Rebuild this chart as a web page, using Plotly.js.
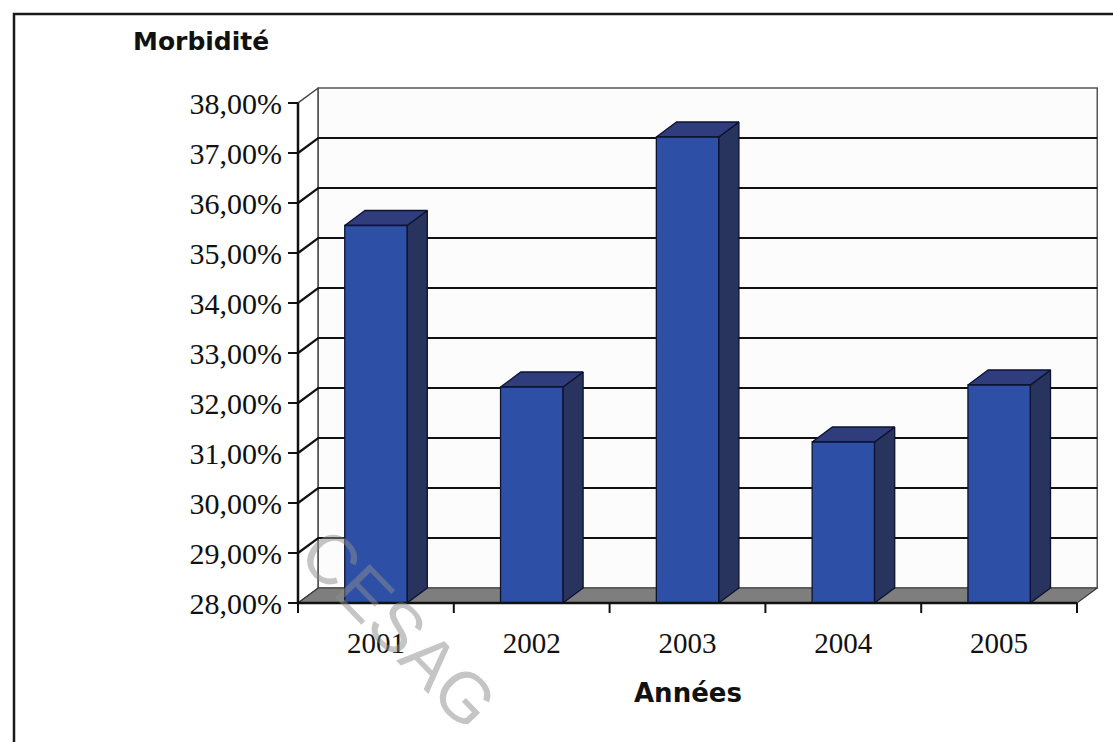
<!DOCTYPE html>
<html>
<head>
<meta charset="utf-8">
<script src="https://cdn.plot.ly/plotly-3.0.1.min.js"></script>
<style>
  html, body { margin: 0; padding: 0; background: #ffffff; }
  #chart { width: 1113px; height: 742px; }
</style>
</head>
<body>
<div id="chart"></div>
<script>
// Taux de morbidité par année
const years = ['2001', '2002', '2003', '2004', '2005'];
const morbidite = [35.55, 32.32, 37.32, 31.22, 32.36];
const yTicks = [28, 29, 30, 31, 32, 33, 34, 35, 36, 37, 38];
const yTickText = yTicks.map(v => v.toFixed(2).replace('.', ',') + '%');

// 3-D look: depth of floor / back wall expressed in axis units
const DX = 0.13, DY = 0.3;
const BASE = yTicks[0], TOP = yTicks[yTicks.length - 1];
const N = years.length;
const BAR_HALF = 0.2;

// page geometry
const W = 1113, H = 742;
const M = { l: 288, r: 7, t: 78, b: 129 };
const plotW = W - M.l - M.r, plotH = H - M.t - M.b;
const KX = 155.8, KY = 50;          // pixels per axis unit
const AX_X = 298, AX_Y = 603;       // pixel position of the front axes
const xRange = [-(AX_X - M.l) / KX, (W - M.r - AX_X) / KX];
const yRange = [BASE - (H - M.b - AX_Y) / KY, BASE + (AX_Y - M.t) / KY];
const px = x => (x - M.l) / plotW;
const py = y => (H - M.b - y) / plotH;

const FRONT = '#2d50a6', SIDE = '#28335e', TOPC = '#303d7c', EDGE = '#0c1230';
const INK = '#111111';

function poly(xs, ys, fill, lineColor, lw) {
  return {
    type: 'scatter', mode: lw ? 'lines' : 'none',
    x: xs.concat([xs[0]]), y: ys.concat([ys[0]]),
    fill: 'toself', fillcolor: fill,
    line: { color: lineColor || fill, width: lw || 0 },
    hoverinfo: 'skip', showlegend: false
  };
}
function line(xs, ys, color, width) {
  return {
    type: 'scatter', mode: 'lines', x: xs, y: ys,
    line: { color: color, width: width },
    hoverinfo: 'skip', showlegend: false, connectgaps: false
  };
}

const traces = [];

// left side wall
traces.push(poly([0, DX, DX, 0], [BASE, BASE + DY, TOP + DY, TOP], '#ffffff', '#444444', 1.5));
// back wall
traces.push(poly([DX, N + DX, N + DX, DX], [BASE + DY, BASE + DY, TOP + DY, TOP + DY], '#fcfcfc', '#555555', 1.5));
// floor
traces.push(poly([0, N, N + DX, DX], [BASE, BASE, BASE + DY, BASE + DY], '#7e7e7e', '#3a3a3a', 1.2));

// gridlines on side and back walls
const gx = [], gy = [];
yTicks.slice(1, -1).forEach(v => {
  gx.push(0, DX, N + DX, null);
  gy.push(v, v + DY, v + DY, null);
});
traces.push(line(gx, gy, INK, 2.2));

// columns: side, top, front faces
morbidite.forEach((v, i) => {
  const c = i + 0.5, l = c - BAR_HALF, r = c + BAR_HALF;
  traces.push(poly([r, r + DX, r + DX, r], [BASE, BASE + DY, v + DY, v], SIDE, EDGE, 1.3));
  traces.push(poly([l, l + DX, r + DX, r], [v, v + DY, v + DY, v], TOPC, EDGE, 1.3));
  const front = poly([l, r, r, l], [BASE, BASE, v, v], FRONT, EDGE, 1.3);
  front.hoverinfo = 'text';
  front.text = years[i] + ' : ' + v.toFixed(2).replace('.', ',') + '%';
  front.hoveron = 'fills';
  traces.push(front);
});

// front axes
traces.push(line([0, 0], [BASE, TOP], INK, 2.5));
traces.push(line([0, N], [BASE, BASE], INK, 2.5));

// category boundary ticks below the floor edge
const shapes = [];
for (let k = 0; k <= N; k++) {
  shapes.push({
    type: 'line', xref: 'x', yref: 'y', ysizemode: 'pixel', yanchor: BASE,
    x0: k, x1: k, y0: 0, y1: -10, line: { color: INK, width: 2 }
  });
}
// frame around the figure
shapes.push({
  type: 'rect', xref: 'paper', yref: 'paper',
  x0: px(14), x1: px(1135), y0: py(770), y1: py(14),
  line: { color: '#1a1a1a', width: 2.5 }, fillcolor: 'rgba(0,0,0,0)'
});

const serifX = { family: 'Liberation Serif, Times New Roman, serif', size: 29, color: INK };
const serifY = { family: 'Liberation Serif, Times New Roman, serif', size: 30, color: INK };

const layout = {
  width: W, height: H, autosize: false,
  margin: M,
  paper_bgcolor: '#ffffff', plot_bgcolor: 'rgba(0,0,0,0)',
  showlegend: false,
  title: {
    text: 'Morbidité',
    font: { family: 'DejaVu Sans, sans-serif', size: 25, weight: 'bold', color: '#111111' },
    xref: 'container', yref: 'container',
    x: 133 / W, xanchor: 'left', y: 1 - 41 / H, yanchor: 'middle'
  },
  xaxis: {
    range: xRange, anchor: 'free', position: py(AX_Y),
    tickmode: 'array', tickvals: years.map((_, i) => i + 0.5), ticktext: years,
    ticks: '', ticklabelstandoff: 20, tickfont: serifX,
    showgrid: false, zeroline: false, showline: false, fixedrange: true
  },
  yaxis: {
    range: yRange, anchor: 'free', position: px(AX_X),
    tickmode: 'array', tickvals: yTicks, ticktext: yTickText,
    ticks: 'outside', ticklen: 10, tickwidth: 2, tickcolor: INK, tickfont: serifY,
    showgrid: false, zeroline: false, showline: false, fixedrange: true
  },
  shapes: shapes,
  annotations: [
    {
      text: 'Années', xref: 'x', yref: 'paper', x: N / 2, y: py(693),
      showarrow: false, xanchor: 'center', yanchor: 'middle',
      font: { family: 'DejaVu Sans, sans-serif', size: 26, weight: 'bold', color: '#111111' }
    },
    {
      text: 'CESAG', xref: 'paper', yref: 'paper', x: px(398), y: py(628),
      xanchor: 'center', yanchor: 'middle',
      showarrow: false, textangle: 46,
      font: { family: 'Liberation Sans, Arial, sans-serif', size: 70, color: 'rgba(140,140,140,0.5)' }
    }
  ]
};

Plotly.newPlot('chart', traces, layout, { displayModeBar: false });
</script>
</body>
</html>
